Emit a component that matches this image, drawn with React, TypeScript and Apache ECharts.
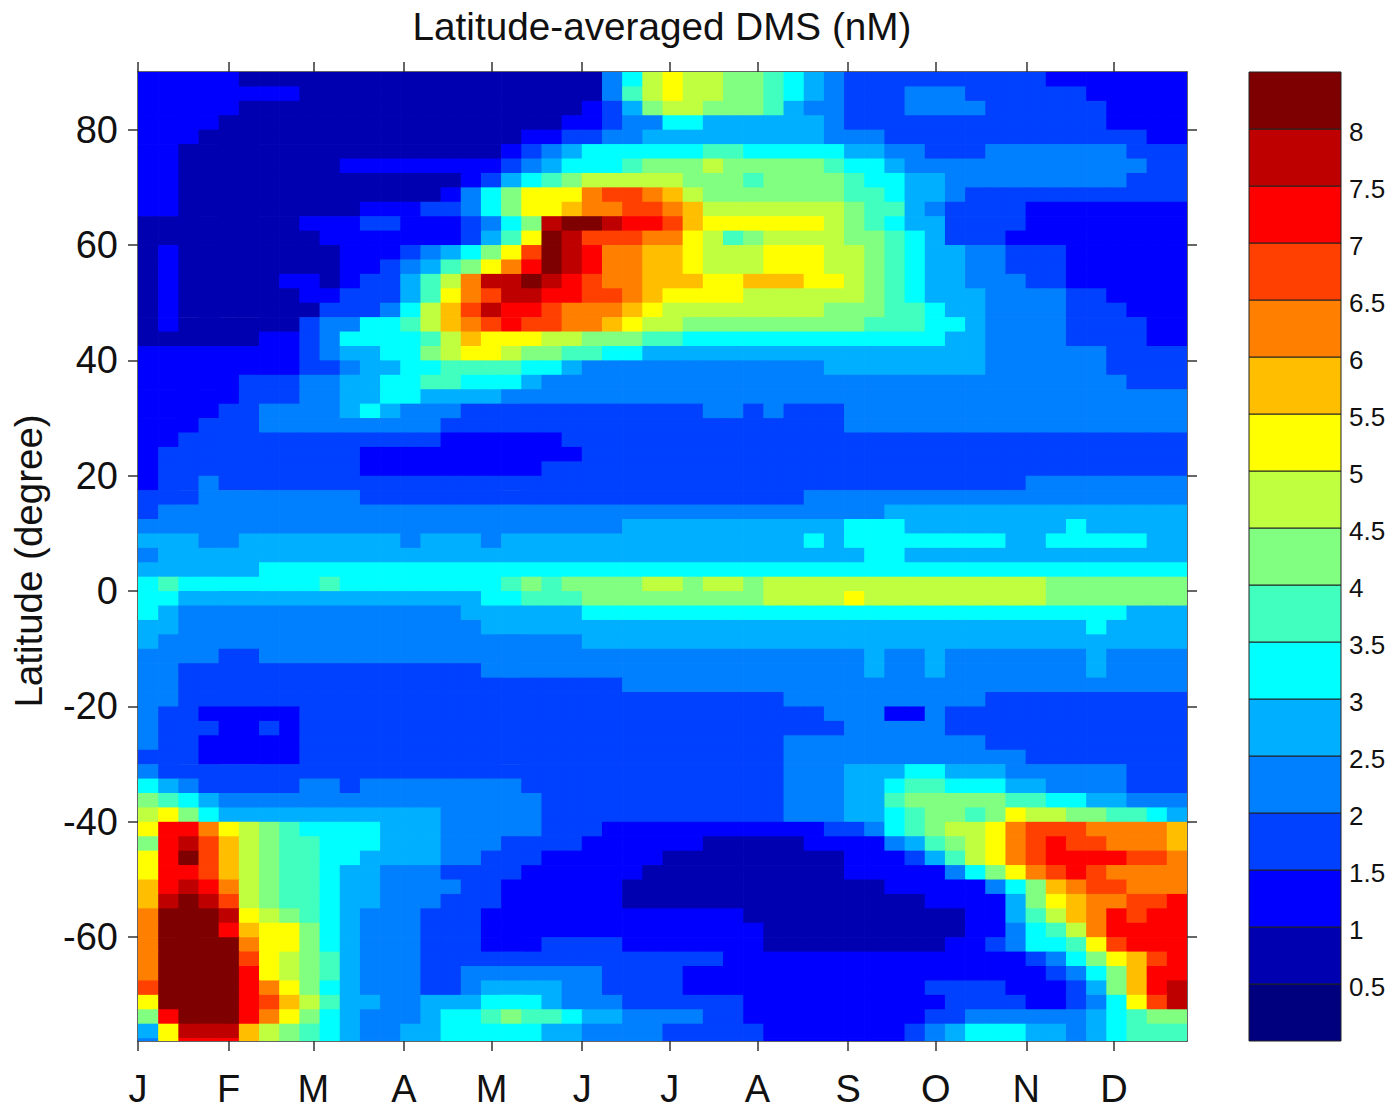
import React, { useEffect, useRef } from "react";
import * as echarts from "echarts";

const monthLabels = ["J", "F", "M", "A", "M", "J", "J", "A", "S", "O", "N", "D"];
const monthDays = [0, 31, 60, 91, 121, 152, 182, 212, 243, 273, 304, 334];
const latTicks = [-60, -40, -20, 0, 20, 40, 60, 80];
const bandColors = ["#00007f", "#0000b0", "#0000ff", "#0040ff", "#0080ff", "#00afff", "#00ffff", "#40ffbf", "#80ff80", "#bfff40", "#ffff00", "#ffbf00", "#ff8000", "#ff4000", "#ff0000", "#bf0000", "#7f0000"];
const DAY_MAX = 359;
const LAT_TOP = 90;
const LAT_BOTTOM = -78;
const LAT_STEP = 2.5;
const COLS = 52;

// Each character is a contour band (0-g = 0-0.5 ... >8 nM), north to south, January to December.
const bandRows = [
"22222 11111 11111 11111 11146 9a998 87654 33333 33333 22222 22",
"22222 22211 11111 11111 11147 9a998 87654 33344 43333 33222 22",
"22222 11111 11111 11111 11235 89988 87544 33344 44333 33322 22",
"22221 11111 11111 11111 12234 46655 55554 33333 33333 33322 22",
"22211 11111 11111 11112 23344 55555 55554 44333 33333 33333 22",
"22111 11111 11111 11123 45666 66677 66666 55443 33444 44443 33",
"22111 11111 22222 22234 56667 88898 88887 66544 44444 44444 33",
"22111 11111 11111 12356 78999 99888 78888 76655 44444 44443 33",
"22111 11111 11111 2468a aacdd cb988 88888 77655 43333 33333 33",
"22111 11111 12223 3468a abccd dcb99 99999 87754 33332 22222 22",
"11111 11122 23322 23468 fggfe edbaa aaaa9 87655 33332 22222 22",
"11111 11112 22222 2357a gfddd cca97 89999 88765 33322 22222 22",
"12111 11111 22234 568ad gfecc bba99 9aaa9 98765 54433 32222 22",
"12111 11111 22345 78ace gfecc bba99 9aaa9 98765 54433 32222 22",
"12111 11221 23357 9cffg fedcc bbbaa bbbaa 98765 54443 32222 22",
"12111 11122 33357 acdff eeddc baaaa 99999 98765 55444 43322 22",
"12111 11113 33469 bdfee dcccb a9999 99998 88776 55444 43332 22",
"12111 11134 46679 bcded dccba 99888 88888 87776 65444 43333 22",
"11111 12234 66667 9baaa 99888 77666 66666 66666 55444 43333 22",
"22222 22234 55668 9aa98 87766 55555 55555 55555 55444 44433 33",
"22222 22233 45566 77776 65444 44444 44445 55555 55444 44433 33",
"22222 33344 55667 76665 44444 44444 44444 44444 44444 44443 33",
"22222 33344 55665 55544 44444 44444 44444 44444 44444 44444 44",
"22223 34444 56544 43333 33333 33344 34333 44444 44444 44444 44",
"22233 34444 44444 33333 33333 33333 33333 44444 44444 44444 44",
"22333 33333 33333 22222 23333 33333 33333 33333 33333 33333 33",
"23333 33333 32222 22222 22333 33333 33333 33333 33333 33333 33",
"23333 33333 32222 22222 33333 33333 33333 33333 33333 33333 33",
"23343 33333 33333 33333 33333 33333 33333 33333 33334 44444 44",
"33344 44444 43333 33333 33333 33333 33344 44444 44444 44444 44",
"34444 44444 44444 44444 44444 44444 44444 44555 55555 55555 55",
"44444 44444 44444 44444 44445 55555 55555 66655 55555 56555 55",
"55544 55555 55545 55455 55555 55555 55565 66666 66655 66666 55",
"45555 55555 55555 55555 55555 55555 55555 56655 55555 55555 55",
"55555 56666 66666 66666 66666 66666 66666 66666 66666 66666 66",
"67666 66667 66666 66678 78888 99899 89999 99999 99999 88888 88",
"66555 55555 55555 55667 77888 88888 89999 a9999 99999 88888 88",
"65444 44444 44444 45555 55666 66666 66666 66666 66666 66665 55",
"55444 44444 44444 44555 55555 55555 55555 55555 55555 55655 55",
"54444 44444 44444 44444 44555 55555 55555 55555 55555 55555 55",
"44443 34444 44444 44444 44444 44444 44444 45445 44444 44544 44",
"44333 33333 33333 33444 44444 44444 44444 45445 44444 44544 44",
"44333 33333 33333 33333 33334 44444 44444 44444 44444 44444 44",
"44333 33333 33333 33333 33333 33333 33444 44444 44333 33333 33",
"43322 22233 33333 33333 33333 33333 33334 44224 33333 33333 33",
"43332 23233 33333 33333 33333 33333 33333 44444 33333 33333 33",
"43322 22233 33333 33333 33333 33333 33444 44444 44333 33333 33",
"33322 22233 33333 33333 33333 33333 33444 44444 44443 33333 33",
"43333 33333 33333 33333 33333 33333 33444 55566 55544 44443 33",
"65433 33344 34444 44443 33333 33333 33444 55677 66655 44443 33",
"87654 44444 44444 44444 33333 33333 33444 55788 88877 66554 44",
"9a865 55555 55555 44444 33333 33333 33444 55678 878a9 98877 65",
"aeeca 98766 66555 44444 33322 22222 22223 34678 99acd ddccc cb",
"8efdb 98776 66555 44433 33222 22211 11122 22457 89acd eddcc cb",
"aegdb 98776 65555 44333 22222 21111 11111 22235 79acd eeeed dc",
"aeedb 98776 55444 33332 22222 11111 11111 22222 468ac dedcc cc",
"befec 98776 55444 43322 22221 11111 11111 11222 22468 bcddc cc",
"bfgfd 98776 55444 33322 22221 11111 11111 11112 22258 abccd de",
"cgggf a9876 54443 33222 22222 22222 11111 11111 12257 9bced ee",
"cggge baa86 54443 33222 22222 22222 21111 11111 12246 79cee ee",
"cgggg caa86 54443 33222 33332 22222 21111 11111 22346 67ade ee",
"cgggg da987 54443 33333 33333 33332 22222 22222 22223 468ab de",
"cgggg ea987 54443 34444 44433 33222 22222 22222 22222 3468b ee",
"dgggg eca86 54443 34555 54433 33222 22222 22223 33322 2358b ef",
"agggg edb97 55445 55666 54443 33333 22222 22222 33332 2346a df",
"8eggg eca86 54445 66787 76554 44433 22222 22223 34444 44567 88",
"5afff b9876 54455 66666 55444 43333 32222 22234 56665 54567 77",
"4aeee b9876 54455 66666 55444 43333 32222 22234 56665 54567 77",
];

const cellData: number[][] = [];
bandRows.forEach((row, r) => {
  const chars = row.replace(/ /g, "");
  for (let c = 0; c < COLS; c++) {
    const level = parseInt(chars[c] ?? chars[chars.length - 1], 17);
    cellData.push([
      (c * DAY_MAX) / COLS,
      ((c + 1) * DAY_MAX) / COLS,
      LAT_TOP - r * LAT_STEP,
      Math.max(LAT_BOTTOM, LAT_TOP - (r + 1) * LAT_STEP),
      level,
    ]);
  }
});

const barData = bandColors.map((_, i) => [0, 1, i * 0.5, (i + 1) * 0.5, i]);

const axisColor = "#333";
const textColor = "#111";
const font = "Liberation Sans";

export default function App() {
  const ref = useRef<HTMLDivElement>(null);
  useEffect(() => {
    const chart = echarts.init(ref.current!, undefined, { renderer: "svg" });
    const tickStyle = { show: true, length: 10, lineStyle: { color: axisColor, width: 1.5 } };
    const renderCell = (params: any, api: any) => {
      const a = api.coord([api.value(0), api.value(2)]);
      const b = api.coord([api.value(1), api.value(3)]);
      const right = params.coordSys.x + params.coordSys.width;
      const bottom = params.coordSys.y + params.coordSys.height;
      return {
        type: "rect",
        shape: {
          x: a[0],
          y: a[1],
          width: Math.min(b[0] - a[0] + 0.7, right - a[0]),
          height: Math.min(b[1] - a[1] + 0.7, bottom - a[1]),
        },
        style: { fill: bandColors[api.value(4)] },
      };
    };
    const renderBar = (_: any, api: any) => {
      const a = api.coord([api.value(0), api.value(3)]);
      const b = api.coord([api.value(1), api.value(2)]);
      return {
        type: "rect",
        shape: { x: a[0], y: a[1], width: b[0] - a[0], height: b[1] - a[1] },
        style: { fill: bandColors[api.value(4)], stroke: "#222", lineWidth: 1 },
      };
    };
    chart.setOption({
      animation: false,
      backgroundColor: "#fff",
      title: {
        text: "Latitude-averaged DMS (nM)",
        left: 657,
        top: 2,
        textAlign: "center",
        textStyle: { fontFamily: font, fontSize: 38.7, fontWeight: "normal", color: textColor },
      },
      graphic: [
        {
          type: "text",
          x: 28,
          y: 561,
          rotation: Math.PI / 2,
          style: {
            text: "Latitude (degree)",
            x: 0,
            y: 0,
            align: "center",
            verticalAlign: "middle",
            fontFamily: font,
            fontSize: 38.5,
            fill: textColor,
          },
        },
      ],
      grid: [
        { left: 138, top: 72, width: 1049, height: 969, show: false, outerBoundsMode: "none" },
        { left: 1249, top: 72, width: 92, height: 969, show: false, outerBoundsMode: "none" },
      ],
      xAxis: [
        {
          gridIndex: 0, type: "value", position: "bottom", min: 0, max: DAY_MAX,
          splitLine: { show: false },
          axisLine: { show: true, onZero: false, lineStyle: { color: axisColor, width: 1.5 } },
          axisTick: { ...tickStyle, customValues: monthDays },
          axisLabel: {
            customValues: monthDays,
            margin: 31,
            lineHeight: 34,
            fontFamily: font, fontSize: 38, color: textColor,
            formatter: (v: number) => monthLabels[monthDays.indexOf(v)] ?? "",
          },
        },
        {
          gridIndex: 0, type: "value", position: "top", min: 0, max: DAY_MAX,
          splitLine: { show: false },
          axisLine: { show: true, onZero: false, lineStyle: { color: axisColor, width: 1.5 } },
          axisTick: { ...tickStyle, customValues: monthDays },
          axisLabel: { show: false },
        },
        { gridIndex: 1, type: "value", min: 0, max: 1, show: false },
      ],
      yAxis: [
        {
          gridIndex: 0, type: "value", position: "left", min: LAT_BOTTOM, max: LAT_TOP,
          splitLine: { show: false },
          axisLine: { show: true, onZero: false, lineStyle: { color: axisColor, width: 1.5 } },
          axisTick: { ...tickStyle, customValues: latTicks },
          axisLabel: { customValues: latTicks, margin: 20, fontFamily: font, fontSize: 38, color: textColor },
        },
        {
          gridIndex: 0, type: "value", position: "right", min: LAT_BOTTOM, max: LAT_TOP,
          splitLine: { show: false },
          axisLine: { show: true, onZero: false, lineStyle: { color: axisColor, width: 1.5 } },
          axisTick: { ...tickStyle, customValues: latTicks },
          axisLabel: { show: false },
        },
        {
          gridIndex: 1, type: "value", position: "right", min: 0, max: 8.5, interval: 0.5,
          splitLine: { show: false },
          axisLine: { show: false },
          axisTick: { show: false },
          axisLabel: {
            margin: 8, fontFamily: font, fontSize: 26, color: textColor,
            verticalAlign: "top", lineHeight: 6,
            formatter: (v: number) => (v === 0 || v === 8.5 ? "" : String(v)),
          },
        },
      ],
      series: [
        {
          type: "custom", xAxisIndex: 0, yAxisIndex: 0, silent: true,
          renderItem: renderCell, data: cellData, encode: { x: [0, 1], y: [2, 3] }, z: 1,
        },
        {
          type: "custom", xAxisIndex: 2, yAxisIndex: 2, silent: true,
          renderItem: renderBar, data: barData, encode: { x: [0, 1], y: [2, 3] }, z: 1,
        },
      ],
    });
    return () => chart.dispose();
  }, []);
  return <div ref={ref} style={{ position: "absolute", left: 0, top: 0, width: 1394, height: 1109 }} />;
}
